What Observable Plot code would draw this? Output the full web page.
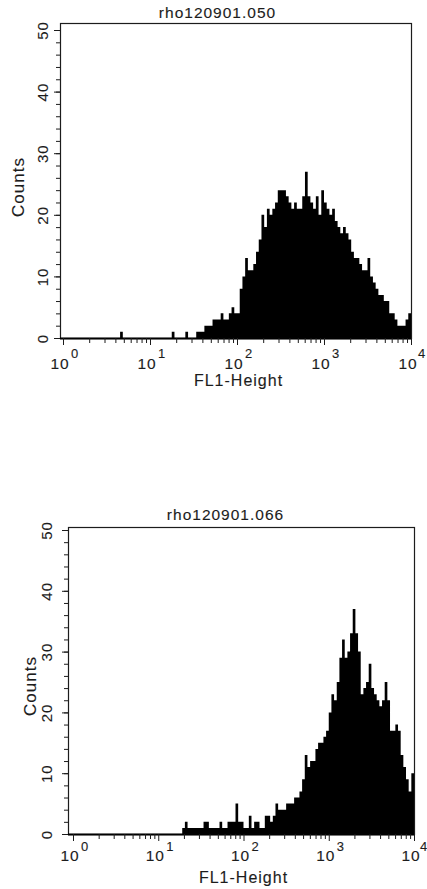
<!DOCTYPE html>
<html><head><meta charset="utf-8">
<script src="https://cdn.jsdelivr.net/npm/d3@7"></script>
<script src="https://cdn.jsdelivr.net/npm/@observablehq/plot@0.6"></script>
<style>
body{margin:0;background:#fff;}
#wrap{position:relative;width:427px;height:889px;background:#fff;}
.panel{position:absolute;left:0;}
svg text{letter-spacing:1px;}
</style></head><body>
<div id="wrap"><div class="panel" id="p1" style="top:0"></div><div class="panel" id="p2" style="top:500px"></div></div>
<script>
const titles = ["rho120901.050", "rho120901.066"];
const xLabel = "FL1-Height";
const yLabel = "Counts";
const binsPerDecade = 32;
const counts050 = [
  0,0,0,0,0,0,0,0,0,0,0,0,0,0,0,0,0,0,0,0,0,
  1,
  0,0,0,0,0,0,0,0,0,0,0,0,0,0,0,0,0,0,
  1,
  0,0,0,0,
  1,
  0,0,0,
  1,1,1,2,2,2,3,3,3,4,3,3,4,5,4,4,
  8,10,13,11,11,12,14,16,20,18,21,20,21,22,24,24,24,23,22,21,
  22,21,21,23,27,23,22,21,23,20,24,22,21,20,21,19,18,17,18,17,16,14,13,13,12,11,11,13,10,9,8,7,7,6,6,4,4,3,2,2,2,3,4
];
const counts066 = [
  0,0,0,0,0,0,0,0,0,0,0,0,0,0,0,0,0,0,0,0,0,0,0,0,0,0,0,0,0,0,0,0,0,0,0,0,0,0,0,0,0,
  1,2,1,1,1,1,1,1,2,2,1,1,1,1,2,1,1,2,2,2,
  5,2,2,1,1,3,1,2,2,1,1,3,3,2,3,5,4,4,4,5,
  5,5,6,6,7,9,13,11,12,12,14,15,15,16,17,20,23,22,25,29,
  32,29,30,33,37,33,30,23,24,25,28,24,23,22,21,22,25,22,17,17,18,17,13,11,9,7,10
];
const yMajor = [0, 10, 20, 30, 40, 50];
const yMinor = [0,2,4,6,8,10,12,14,16,18,20,22,24,26,28,30,32,34,36,38,40,42,44,46,48,50];
const decades = [1, 10, 100, 1000, 10000];
const exponents = ["0", "1", "2", "3", "4"];
const minorMultipliers = [2,3,4,5,6,7,8,9];

const xMinor = decades.slice(0, -1).flatMap(d => minorMultipliers.map(m => d * m));
const font = "'Liberation Sans', Arial, Helvetica, sans-serif";
const ink = "#1c1c1c";

function steps(counts) {
  const pts = counts.map((c, i) => ({x: Math.pow(10, i / binsPerDecade), y: c}));
  pts.push({x: 1e4, y: counts[counts.length - 1]});
  return pts;
}

function panel(el, counts, title, L) {
  const T = {fill: ink, stroke: ink, strokeWidth: 0.12, fontFamily: font, textAnchor: "middle", lineAnchor: "middle"};
  const exps = decades.map((d, i) => ({d, e: exponents[i]}));
  const chart = Plot.plot({
    width: 427,
    height: L.height,
    marginTop: L.mt, marginBottom: L.mb, marginLeft: L.ml, marginRight: L.mr,
    style: {background: "white", color: ink, fontFamily: font, overflow: "visible"},
    x: {type: "log", domain: [1, 1e4], insetLeft: L.insetLeft, label: null, axis: null},
    y: {domain: [0, 50], insetTop: L.insetTop, label: null, axis: null},
    marks: [
      Plot.areaY(steps(counts), {x: "x", y: "y", curve: "step-after", fill: "black"}),
      Plot.frame({stroke: ink, strokeWidth: 1.2}),
      Plot.ruleY([0], {stroke: "black", strokeWidth: 2}),
      Plot.axisY({ticks: yMinor, tickSize: 4, tickFormat: () => "", label: null, anchor: "left"}),
      Plot.axisY({ticks: yMajor, tickSize: 6, tickFormat: () => "", label: null, anchor: "left"}),
      Plot.axisX({ticks: xMinor, tickSize: 5, tickFormat: () => "", label: null, anchor: "bottom"}),
      Plot.axisX({ticks: decades, tickSize: 7, tickFormat: () => "", label: null, anchor: "bottom"}),
      Plot.text(yMajor, {...T, y: d => d, text: d => String(d), frameAnchor: "left", dx: L.yLabDx, rotate: -90, fontSize: 15}),
      Plot.text([yLabel], {...T, text: d => d, frameAnchor: "left", dx: L.countsDx, dy: L.countsDy, rotate: -90, fontSize: 17}),
      Plot.text(decades, {...T, x: d => d, text: () => "10", frameAnchor: "bottom", dx: -3.5, dy: L.tenDy, fontSize: 15.5}),
      Plot.text(exps.slice(0, 4), {...T, x: "d", text: "e", frameAnchor: "bottom", dx: 11.5, dy: L.expDy, fontSize: 13}),
      Plot.text(exps.slice(4), {...T, x: "d", text: "e", frameAnchor: "bottom", dx: L.lastExpDx, dy: L.expDy, fontSize: 13}),
      Plot.text([xLabel], {...T, text: d => d, frameAnchor: "bottom", dx: L.xlabDx, dy: L.xlabDy, fontSize: 16}),
      Plot.text([title], {...T, text: d => d, frameAnchor: "top", dx: L.titleDx, dy: L.titleDy, fontSize: 15.5})
    ]
  });
  el.appendChild(chart);
}

panel(document.getElementById("p1"), counts050, titles[0], {
  height: 393, mt: 23, mb: 55, ml: 60, mr: 16, insetTop: 7, insetLeft: 3,
  yLabDx: -17, countsDx: -41.5, countsDy: 6, tenDy: 25.5, expDy: 15.5, lastExpDx: 10.5,
  xlabDx: 2.5, xlabDy: 42, titleDx: -18.5, titleDy: -10
});
panel(document.getElementById("p2"), counts066, titles[1], {
  height: 389, mt: 27, mb: 55, ml: 68, mr: 13, insetTop: 3, insetLeft: 5,
  yLabDx: -21, countsDx: -38, countsDy: 5, tenDy: 21.5, expDy: 12.5, lastExpDx: 9.5,
  xlabDx: 2, xlabDy: 43, titleDx: -16, titleDy: -12
});
</script>
</body></html>
